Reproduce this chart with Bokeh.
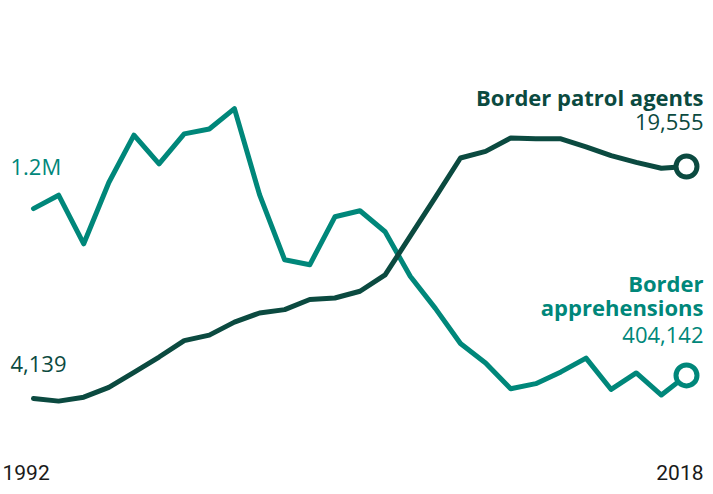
from bokeh.plotting import figure
from bokeh.models import Range1d, Label, ColumnDataSource
from bokeh.embed import file_html
from bokeh.resources import INLINE

years = list(range(1992, 2019))
apprehensions = [1199560, 1263490, 1031668, 1324202, 1549876, 1412953, 1555776,
                 1579010, 1676438, 1266214, 955310, 931557, 1160395, 1189075,
                 1089092, 876704, 723825, 556041, 463382, 340252, 364768,
                 420789, 486651, 337117, 415816, 310531, 404142]
agents = [4139, 3965, 4226, 4881, 5878, 6895, 7982, 8351, 9212, 9821, 10045,
          10717, 10819, 11264, 12349, 14923, 17499, 20119, 20558, 21444, 21394,
          21391, 20863, 20273, 19828, 19437, 19555]

TEAL = "#00877a"
DARK = "#0b4a40"

W, H = 705, 486
p = figure(width=W, height=H, output_backend="svg", toolbar_location=None,
           x_range=Range1d(1990.686, 2018.7565),
           y_range=Range1d(-125710, 2191900),
           min_border=0, outline_line_color=None)
p.extra_y_ranges = {"agents": Range1d(-1709, 30586)}
p.xaxis.visible = False
p.yaxis.visible = False
p.grid.visible = False
p.background_fill_color = "white"
p.border_fill_color = "white"

src = ColumnDataSource(dict(year=years, app=apprehensions, ag=agents))

p.line("year", "app", source=src, line_color=TEAL, line_width=5,
       line_join="round", line_cap="round")
p.line("year", "ag", source=src, line_color=DARK, line_width=5,
       line_join="round", line_cap="round", y_range_name="agents")

p.scatter([years[-1]], [apprehensions[-1]], size=21, fill_color="white",
          line_color=TEAL, line_width=5)
p.scatter([years[-1]], [agents[-1]], size=21, fill_color="white",
          line_color=DARK, line_width=5, y_range_name="agents")

FONT = "Open Sans"
YFONT = "Roboto"

def lab(text, x, y, color, align="left", bold=False, size="22px", font=FONT):
    p.add_layout(Label(x=x, y=y, x_units="screen", y_units="screen", text=text,
                       text_color=color, text_align=align,
                       text_baseline="alphabetic", text_font=font,
                       text_font_size=size,
                       text_font_style="bold" if bold else "normal"))

def fmt(v):
    return f"{v:,}"

lab("Border patrol agents", 703, 390, DARK, "right", True)
lab(fmt(agents[-1]), 703, 365, DARK, "right")
lab("Border", 703, 204, TEAL, "right", True)
lab("apprehensions", 703, 180, TEAL, "right", True)
lab(fmt(apprehensions[-1]), 703, 152, TEAL, "right")
lab(f"{apprehensions[0]/1e6:.1f}M", 10, 321, TEAL)
lab(fmt(agents[0]), 10, 123, DARK)
lab(str(years[0]), 2, 14, "#1a1a1a", "left", False, "21px", YFONT)
lab(str(years[-1]), 703, 14, "#1a1a1a", "right", False, "21px", YFONT)

open("out.html", "w").write(file_html(p, INLINE))
